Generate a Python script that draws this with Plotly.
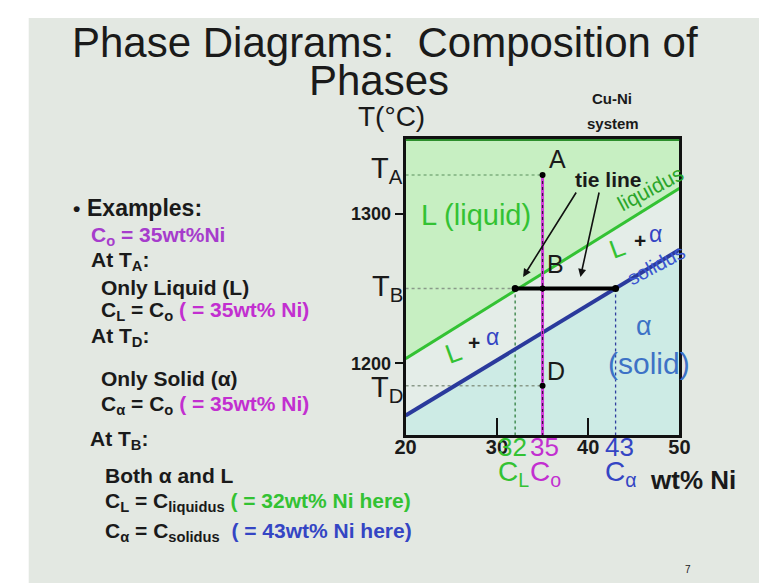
import plotly.graph_objects as go

# axis extents (wt% Ni, deg C)
comp_range = [20, 50]
temp_range = [1152, 1350]

# phase boundaries (Cu-Ni, straight-line approximation)
liq_comp = [20, 50]
liq_temp = [1203, 1317]
sol_comp = [20, 50]
sol_temp = [1165, 1276]

# example compositions / temperatures
c_liq = 32
c_zero = 35
c_alpha = 43
t_a = 1326
t_b = 1250
t_d = 1185

x_tick_vals = [20, 30, 40, 50]
x_tick_text = ["20", "30", "40", "50"]
y_tick_vals = [1200, 1300]
y_tick_text = ["1200", "1300"]

W, H = 767, 583
FONT = "Liberation Sans, Arial, sans-serif"
GREEN = "#33c233"
MAGENTA = "#c22fd0"
PURPLE = "#a63ccc"
BLUE = "#3445c4"
STEEL = "#3d72c6"
NAVY = "#2a3a9c"
INK = "#1a1a1a"


def px(x, y):
    # pixel position on the slide -> paper coords
    return x / W, 1 - y / H


fig = go.Figure()

top, bot = temp_range[1], temp_range[0]
# region fills
fig.add_trace(go.Scatter(
    x=[liq_comp[0], liq_comp[1], comp_range[1], comp_range[0]],
    y=[liq_temp[0], liq_temp[1], top, top],
    fill="toself", fillcolor="#c7efc2", mode="none", hoverinfo="skip"))
fig.add_trace(go.Scatter(
    x=[liq_comp[0], liq_comp[1], sol_comp[1], sol_comp[0]],
    y=[liq_temp[0], liq_temp[1], sol_temp[1], sol_temp[0]],
    fill="toself", fillcolor="#e4ede8", mode="none", hoverinfo="skip"))
fig.add_trace(go.Scatter(
    x=[sol_comp[0], sol_comp[1], comp_range[1], comp_range[0]],
    y=[sol_temp[0], sol_temp[1], bot, bot],
    fill="toself", fillcolor="#cdebe5", mode="none", hoverinfo="skip"))

# dotted guide lines
dot_gray = dict(color="#8a9a8a", width=1.5, dash="dot")
fig.add_trace(go.Scatter(x=[comp_range[0], c_zero], y=[t_a, t_a], mode="lines",
                         line=dict(color="#7fb07f", width=1.5, dash="dot")))
fig.add_trace(go.Scatter(x=[comp_range[0], c_liq], y=[t_b, t_b], mode="lines", line=dot_gray))
fig.add_trace(go.Scatter(x=[comp_range[0], c_zero], y=[t_d, t_d], mode="lines", line=dot_gray))
fig.add_trace(go.Scatter(x=[c_liq, c_liq], y=[t_b, bot], mode="lines",
                         line=dict(color="#2f7f3f", width=1.3, dash="dot")))
fig.add_trace(go.Scatter(x=[c_alpha, c_alpha], y=[t_b, bot], mode="lines",
                         line=dict(color="#2f3f9f", width=1.3, dash="dot")))

# phase boundaries
fig.add_trace(go.Scatter(x=liq_comp, y=liq_temp, mode="lines",
                         line=dict(color=GREEN, width=3)))
fig.add_trace(go.Scatter(x=sol_comp, y=sol_temp, mode="lines",
                         line=dict(color=NAVY, width=4)))

# C0 vertical
fig.add_trace(go.Scatter(x=[c_zero, c_zero], y=[t_a, bot], mode="lines",
                         line=dict(color="#d040d8", width=3)))
fig.add_trace(go.Scatter(x=[c_zero, c_zero], y=[t_a, bot], mode="lines",
                         line=dict(color="#3a1040", width=1.2, dash="dot")))

# tie line
fig.add_trace(go.Scatter(x=[c_liq, c_alpha], y=[t_b, t_b], mode="lines+markers",
                         line=dict(color="black", width=4),
                         marker=dict(color="black", size=7)))
# state points
fig.add_trace(go.Scatter(x=[c_zero, c_zero, c_zero], y=[t_a, t_b, t_d], mode="markers",
                         marker=dict(color="black", size=6)))

# frame top (green)
fig.add_shape(type="line", xref="x", yref="y", x0=comp_range[0], x1=comp_range[1],
              y0=top, y1=top, line=dict(color="#2c8f2c", width=4))

# slide background
x0, y0 = px(10, 576)
x1, y1 = px(767, 10)
fig.add_shape(type="rect", xref="paper", yref="paper", x0=x0, y0=y0, x1=x1, y1=y1,
              fillcolor="#e3e8e2", line=dict(width=0), layer="below")

ann = []


def txt(x, y, text, size, color=INK, anchor="center", **kw):
    xx, yy = px(x, y)
    d = dict(x=xx, y=yy, xref="paper", yref="paper", text=text, showarrow=False,
             xanchor=anchor, yanchor="middle",
             font=dict(family=FONT, size=size, color=color))
    d.update(kw)
    ann.append(d)


# title
txt(377, 34, "Phase Diagrams:  Composition of", 42)
txt(371, 72, "Phases", 42)
txt(384, 108, "T(°C)", 28)
txt(611, 91, "<b>Cu-Ni</b>", 15)
txt(612, 115, "<b>system</b>", 15)

# temperature labels on the left of the frame
for lbl, t, dy in [("A", t_a, 5), ("B", t_b, 0), ("D", t_d, -3)]:
    ann.append(dict(x=comp_range[0], y=t, xref="x", yref="y", xanchor="right",
                    yanchor="middle", xshift=-1, yshift=dy, showarrow=False,
                    text=f"T<sub>{lbl}</sub>",
                    font=dict(family=FONT, size=29, color=INK)))

# composition labels below the axis
for c, col, sub, dx in [(c_liq, GREEN, "L", -2), (c_zero, MAGENTA, "o", 3), (c_alpha, BLUE, "α", 5)]:
    ann.append(dict(x=c, y=bot, xref="x", yref="y", yanchor="middle", xanchor="center",
                    yshift=-12, xshift=dx - 1, showarrow=False, text=str(c),
                    font=dict(family=FONT, size=26, color=col)))
    ann.append(dict(x=c, y=bot, xref="x", yref="y", yanchor="middle", xanchor="center",
                    yshift=-38, xshift=dx, showarrow=False, text=f"C<sub>{sub}</sub>",
                    font=dict(family=FONT, size=28, color=col)))
txt(694, 472, "<b>wt% Ni</b>", 26)

# labels inside the diagram
txt(554, 151, "A", 25)
txt(552, 256, "B", 25)
txt(553, 363, "D", 25)
txt(471, 207, "L (liquid)", 29, GREEN)
txt(607, 171, "<b>tie line</b>", 21)
txt(650, 181, "liquidus", 21, "#2aa52a", textangle=-28)
txt(656, 257, "solidus", 20, "#3a55d0", textangle=-28)
txt(616, 240, "L", 26, GREEN, textangle=-20)
txt(639, 233, "<b>+</b>", 21, INK)
txt(655, 226, "α", 23, BLUE)
txt(447, 345, "L", 27, GREEN, textangle=-20)
txt(468, 334, "<b>+</b>", 21, INK)
txt(487, 329, "α", 23, BLUE)
txt(643, 318, "α", 27, STEEL)
txt(649, 355, "(solid)", 30, STEEL)

# tie-line arrows (head position, tail position in slide pixels)
for (hx, hy), (tx, ty) in [((519, 269), (573, 183)), ((578, 269), (597, 183))]:
    hxp, hyp = px(hx, hy)
    ann.append(dict(x=hxp, y=hyp, xref="paper", yref="paper", ax=tx - hx, ay=ty - hy,
                    axref="pixel", ayref="pixel", showarrow=True, arrowhead=2,
                    arrowsize=1, arrowwidth=1.6, arrowcolor="#111111", text=""))

# left text block
B = lambda s: f"<b>{s}</b>"
L0 = 68
txt(L0 - 14, 200, B("•"), 21, anchor="left")
txt(L0, 200, B("Examples:"), 23, anchor="left")
txt(L0 + 4, 228, B("C<sub>o</sub> = 35wt%Ni"), 21, PURPLE, anchor="left")
txt(L0 + 4, 253, B("At T<sub>A</sub>:"), 21, anchor="left")
txt(L0 + 14, 280, B("Only Liquid (L)"), 21, anchor="left")
txt(L0 + 14, 303, B(f"C<sub>L</sub> = C<sub>o</sub> <span style='color:{MAGENTA}'>( = 35wt% Ni)</span>"),
    21, anchor="left")
txt(L0 + 4, 329, B("At T<sub>D</sub>:"), 21, anchor="left")
txt(L0 + 14, 370, B("Only Solid (α)"), 21, anchor="left")
txt(L0 + 14, 397, B(f"C<sub>α</sub> = C<sub>o</sub> <span style='color:{MAGENTA}'>( = 35wt% Ni)</span>"),
    21, anchor="left")
txt(L0 + 3, 432, B("At T<sub>B</sub>:"), 21, anchor="left")
txt(L0 + 18, 467, B("Both α and L"), 21, anchor="left")
txt(L0 + 18, 494, B(f"C<sub>L</sub> = C<sub>liquidus</sub> <span style='color:{GREEN}'>( = 32wt% Ni here)</span>"),
    21, anchor="left")
txt(L0 + 18, 524, B(f"C<sub>α</sub> = C<sub>solidus</sub>  <span style='color:{BLUE}'>( = 43wt% Ni here)</span>"),
    21, anchor="left")
txt(689, 561, "7", 10)

fig.update_layout(
    width=W, height=H,
    margin=dict(l=0, r=0, t=0, b=0),
    paper_bgcolor="white",
    plot_bgcolor="rgba(0,0,0,0)",
    showlegend=False,
    annotations=ann,
    font=dict(family=FONT, color=INK),
    xaxis=dict(domain=[398 / W, 680 / W], range=comp_range, showgrid=False,
               zeroline=False, showline=True, mirror=True, linecolor="#111111",
               linewidth=3, ticks="inside", ticklen=17, tickwidth=2,
               tickcolor="#111111", tickvals=x_tick_vals, ticktext=x_tick_text,
               ticklabelstandoff=-8,
               tickfont=dict(size=20, color=INK, weight="bold")),
    yaxis=dict(domain=[1 - 427 / H, 1 - 131 / H], range=temp_range, showgrid=False,
               zeroline=False, showline=True, mirror=True, linecolor="#111111",
               linewidth=3, ticks="outside", ticklen=8, tickwidth=2,
               tickcolor="#111111", tickvals=y_tick_vals, ticktext=y_tick_text,
               tickfont=dict(size=18, color=INK, weight="bold")),
)

fig.write_html("out.html")
